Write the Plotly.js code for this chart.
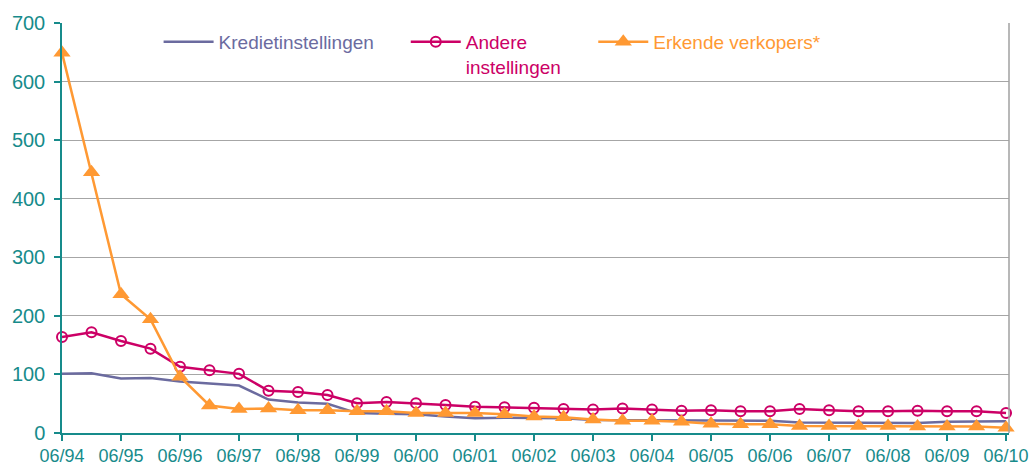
<!DOCTYPE html>
<html>
<head>
<meta charset="utf-8">
<script src="https://cdn.plot.ly/plotly-3.0.1.min.js"></script>
<style>
  html, body { margin: 0; padding: 0; background: #fff; }
  #chart { width: 1030px; height: 470px; }
</style>
</head>
<body>
<div id="chart"></div>
<script>
const periods = [
  '06/94', '12/94', '06/95', '12/95', '06/96', '12/96', '06/97', '12/97',
  '06/98', '12/98', '06/99', '12/99', '06/00', '12/00', '06/01', '12/01',
  '06/02', '12/02', '06/03', '12/03', '06/04', '12/04', '06/05', '12/05',
  '06/06', '12/06', '06/07', '12/07', '06/08', '12/08', '06/09', '12/09', '06/10'
];
const kredietinstellingen = [
  101, 102, 93, 94, 88, 85, 81, 57, 52, 50, 34, 33, 32, 28, 25, 26,
  25, 25, 22, 22, 22, 22, 21, 21, 21, 18, 18, 18, 18, 17, 19, 20, 20
];
const andereInstellingen = [
  164, 172, 157, 144, 113, 107, 101, 72, 70, 65, 51, 53, 51, 48, 45, 44,
  43, 41, 40, 42, 40, 38, 39, 37, 37, 41, 39, 37, 37, 38, 37, 37, 34
];
const erkendeVerkopers = [
  649, 445, 237, 194, 96, 47, 41, 42, 39, 39, 37, 37, 34, 34, 34, 32,
  28, 27, 23, 21, 21, 19, 16, 15, 15, 12, 12, 12, 12, 11, 11, 11, 9
];
const yearTicks = periods.filter(p => p.startsWith('06/'));

const teal = '#178b8b';
const c1 = '#6b6b9f';
const c2 = '#cc0066';
const c3 = '#ff9933';
const font = 'Liberation Sans, Arial, sans-serif';

const traces = [
  {
    x: periods, y: kredietinstellingen, type: 'scatter', mode: 'lines',
    name: '<span style="color:' + c1 + '">Kredietinstellingen</span>',
    line: { color: c1, width: 2.5 }, legend: 'legend', cliponaxis: false
  },
  {
    x: periods, y: andereInstellingen, type: 'scatter', mode: 'lines+markers',
    name: '<span style="color:' + c2 + '">Andere<br>instellingen</span>',
    line: { color: c2, width: 2.5 },
    marker: { symbol: 'circle-open', size: 10, color: c2, line: { width: 2, color: c2 } },
    legend: 'legend2', cliponaxis: false
  },
  {
    x: periods, y: erkendeVerkopers, type: 'scatter', mode: 'lines+markers',
    name: '<span style="color:' + c3 + '">Erkende verkopers*</span>',
    line: { color: c3, width: 2.5 },
    marker: { symbol: 'triangle-up', size: 15, color: c3 },
    legend: 'legend3', cliponaxis: false
  }
];

const legendBase = {
  orientation: 'h', xanchor: 'left', yanchor: 'top', y: 1.0, valign: 'top',
  bgcolor: 'rgba(0,0,0,0)', font: { family: font, size: 19 }, itemwidth: 50
};

const layout = {
  width: 1030, height: 470,
  paper_bgcolor: '#ffffff', plot_bgcolor: '#ffffff',
  font: { family: font, size: 18, color: teal },
  margin: { l: 62, r: 21, t: 23, b: 37 },
  showlegend: true,
  legend: { ...legendBase, x: 0.102 },
  legend2: { ...legendBase, x: 0.363 },
  legend3: { ...legendBase, x: 0.561 },
  xaxis: {
    type: 'category', range: [0, 32.1],
    tickvals: yearTicks, ticktext: yearTicks,
    showgrid: false, zeroline: false,
    showline: true, linecolor: teal, linewidth: 1.5,
    ticks: 'outside', ticklen: 6, tickcolor: teal, tickwidth: 1.5,
    tickfont: { family: font, size: 18, color: teal }
  },
  yaxis: {
    range: [0, 700], dtick: 100, tick0: 0,
    showgrid: true, gridcolor: '#a6a6a6', gridwidth: 1, zeroline: false,
    showline: true, linecolor: teal, linewidth: 1.5,
    ticks: 'outside', ticklen: 6, tickcolor: teal, tickwidth: 1.5,
    ticklabelstandoff: 5,
    tickfont: { family: font, size: 20, color: teal }
  },
  shapes: [
    { type: 'line', xref: 'paper', yref: 'paper', x0: 1, x1: 1, y0: 0, y1: 1,
      line: { color: '#a0a0a0', width: 1.5 } }
  ]
};

Plotly.newPlot('chart', traces, layout, { displayModeBar: false, responsive: false });
</script>
</body>
</html>
